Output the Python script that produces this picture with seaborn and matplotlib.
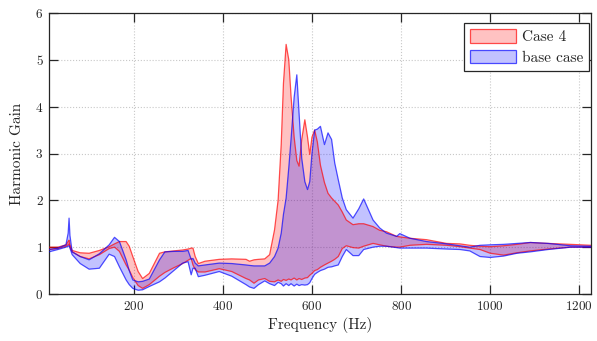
import matplotlib
matplotlib.use("Agg")
import matplotlib.pyplot as plt
from matplotlib.patches import Patch
import pandas as pd
import seaborn as sns

# Frequency points (Hz) shared by both envelopes
freq = [10, 30, 48, 53, 55, 57, 62, 80, 100, 123, 145, 157, 168, 183, 190, 198,
        210, 220, 235, 258, 270, 290, 310, 322, 329, 333, 338, 345, 360, 392,
        420, 452, 460, 470, 480, 494, 505, 516, 524, 531, 536, 542, 548, 553,
        560, 566, 571, 577, 584, 590, 595, 600, 606, 612, 619, 628, 636, 644,
        651, 659, 668, 677, 692, 705, 716, 737, 752, 767, 790, 797, 820, 857,
        902, 932, 954, 977, 1000, 1030, 1060, 1090, 1130, 1180, 1226]

# Case 4 harmonic gain envelope
case4_upper = [1.00, 1.00, 1.05, 1.12, 1.15, 1.05, 0.93, 0.88, 0.87, 0.93, 1.01, 1.07,
               1.12, 1.12, 1.02, 0.80, 0.48, 0.33, 0.44, 0.87, 0.90, 0.92, 0.94, 0.96,
               0.98, 0.98, 0.80, 0.65, 0.70, 0.74, 0.75, 0.74, 0.70, 0.73, 0.74, 0.75,
               0.84, 1.37, 2.00, 3.20, 4.50, 5.33, 5.00, 4.23, 3.35, 2.85, 2.73, 3.30,
               3.72, 3.35, 2.98, 3.35, 3.50, 3.25, 2.75, 2.38, 2.15, 2.05, 1.98, 1.90,
               1.75, 1.58, 1.48, 1.50, 1.50, 1.44, 1.36, 1.33, 1.23, 1.22, 1.19, 1.16,
               1.08, 1.07, 1.04, 1.02, 1.01, 1.03, 1.06, 1.10, 1.08, 1.06, 1.04]
case4_lower = [0.95, 0.97, 1.02, 1.05, 1.07, 1.00, 0.90, 0.80, 0.75, 0.84, 0.97, 1.00,
               0.91, 0.62, 0.51, 0.35, 0.18, 0.12, 0.20, 0.38, 0.46, 0.56, 0.65, 0.72,
               0.76, 0.62, 0.52, 0.47, 0.47, 0.54, 0.48, 0.33, 0.30, 0.23, 0.30, 0.33,
               0.27, 0.26, 0.30, 0.27, 0.31, 0.29, 0.32, 0.30, 0.34, 0.30, 0.33, 0.31,
               0.34, 0.35, 0.40, 0.44, 0.50, 0.52, 0.57, 0.62, 0.66, 0.70, 0.74, 0.80,
               0.97, 1.03, 0.99, 0.98, 1.02, 1.08, 1.05, 1.02, 1.00, 1.00, 1.04, 1.06,
               1.04, 1.01, 0.98, 0.95, 0.87, 0.83, 0.88, 0.92, 0.96, 1.00, 1.00]

# Base case harmonic gain envelope
base_upper = [0.95, 0.98, 1.05, 1.30, 1.62, 1.25, 0.90, 0.80, 0.73, 0.86, 1.05, 1.21,
              1.12, 0.73, 0.50, 0.30, 0.26, 0.27, 0.32, 0.73, 0.90, 0.91, 0.91, 0.93,
              0.74, 0.76, 0.66, 0.60, 0.62, 0.66, 0.65, 0.62, 0.61, 0.60, 0.60, 0.60,
              0.66, 0.80, 0.98, 1.30, 1.70, 2.05, 2.70, 3.30, 4.20, 4.68, 3.87, 2.90,
              2.40, 2.23, 2.40, 3.00, 3.50, 3.52, 3.58, 3.19, 3.44, 3.30, 2.80, 2.44,
              2.05, 1.80, 1.62, 1.82, 2.03, 1.58, 1.41, 1.30, 1.23, 1.29, 1.19, 1.12,
              1.07, 1.03, 1.00, 1.04, 1.05, 1.06, 1.08, 1.10, 1.08, 1.03, 1.02]
base_lower = [0.90, 0.95, 1.00, 1.02, 1.03, 0.98, 0.84, 0.65, 0.53, 0.55, 0.85, 0.80,
              0.58, 0.30, 0.20, 0.12, 0.08, 0.09, 0.16, 0.26, 0.34, 0.50, 0.66, 0.69,
              0.41, 0.55, 0.55, 0.37, 0.40, 0.48, 0.38, 0.20, 0.15, 0.12, 0.20, 0.28,
              0.22, 0.18, 0.25, 0.22, 0.17, 0.22, 0.18, 0.22, 0.17, 0.21, 0.18, 0.20,
              0.19, 0.20, 0.24, 0.33, 0.42, 0.46, 0.50, 0.53, 0.57, 0.58, 0.60, 0.62,
              0.80, 0.95, 0.82, 0.82, 0.95, 1.00, 1.02, 1.02, 0.99, 0.98, 0.98, 0.98,
              0.96, 0.95, 0.92, 0.80, 0.78, 0.81, 0.87, 0.90, 0.95, 1.00, 1.00]

labels = ["Case 4", "base case"]
x_ticks = [200, 400, 600, 800, 1000, 1200]
y_ticks = [0, 1, 2, 3, 4, 5, 6]

sns.set_style("ticks")
plt.rcParams["font.family"] = ["cmr10", "DejaVu Serif"]
plt.rcParams["axes.formatter.use_mathtext"] = True
plt.rcParams["mathtext.fontset"] = "cm"

ink = "#262626"
fig = plt.figure(figsize=(5.97, 3.41), dpi=100)
ax = fig.add_axes([49 / 597, 1 - 294 / 341, 542 / 597, 281 / 341])

df = pd.DataFrame({"freq": freq,
                   "c4_hi": case4_upper, "c4_lo": case4_lower,
                   "b_hi": base_upper, "b_lo": base_lower})

bands = [(labels[0], "c4_hi", "c4_lo", (1.0, 0.0, 0.0)),
         (labels[1], "b_hi", "b_lo", (0.0, 0.0, 1.0))]

fill_alpha = 0.24
edge_alpha = 0.68
handles = []
for label, hi, lo, col in bands:
    ax.fill_between(df["freq"], df[lo], df[hi], facecolor=(*col, fill_alpha),
                    edgecolor="none", linewidth=0, zorder=2)
    for key in (hi, lo):
        sns.lineplot(data=df, x="freq", y=key, color=col, alpha=edge_alpha,
                     linewidth=0.9, estimator=None, sort=False, ax=ax,
                     legend=False, zorder=3)
    handles.append(Patch(facecolor=(*col, fill_alpha), edgecolor=(*col, edge_alpha),
                         linewidth=0.9, label=label))

ax.set_xlim(10, 1226)
ax.set_ylim(0, 6)
ax.set_xticks(x_ticks)
ax.set_yticks(y_ticks)
ax.set_xlabel("Frequency (Hz)", fontsize=11, color=ink, labelpad=3)
ax.set_ylabel("Harmonic Gain", fontsize=11, color=ink, labelpad=8)

ax.grid(True, linestyle=":", color="#c8c8c8", linewidth=0.8)
ax.set_axisbelow(True)
for side in ["left", "right", "top", "bottom"]:
    ax.spines[side].set_visible(True)
    ax.spines[side].set_color(ink)
    ax.spines[side].set_linewidth(0.9)
ax.tick_params(direction="in", length=6.5, width=0.9, color=ink,
               labelcolor=ink, labelsize=9.5, top=True, right=True, pad=4)

leg = ax.legend(handles=handles, loc="upper right",
                bbox_to_anchor=(0.9963, 0.9644), borderaxespad=0,
                fontsize=11, frameon=True, fancybox=False, framealpha=1,
                edgecolor=ink, handlelength=3.0, handleheight=1.0,
                handletextpad=0.35, labelspacing=0.35, borderpad=0.4)
leg.get_frame().set_linewidth(0.9)

fig.savefig("out.png", dpi=100)
